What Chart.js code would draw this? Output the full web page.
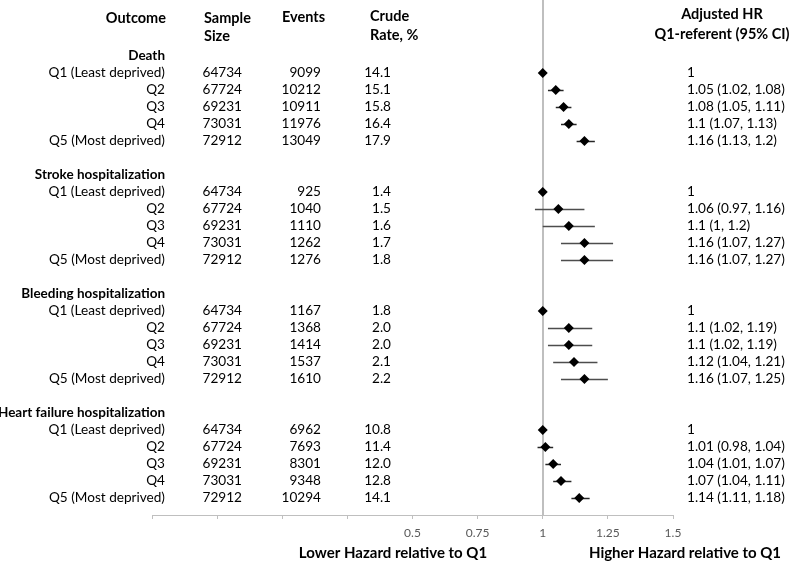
<!DOCTYPE html>
<html lang="en">
<head>
<meta charset="UTF-8">
<title>Forest plot - HR by deprivation quintile</title>
<script src="https://cdn.jsdelivr.net/npm/chart.js"></script>
<style>
  body { margin: 0; background: #fff; }
  #wrap { position: relative; width: 800px; height: 561px; }
</style>
</head>
<body>
<div id="wrap"><canvas id="forest"></canvas></div>
<script>
// table data
const outcomes = ["Death", "Stroke hospitalization", "Bleeding hospitalization", "Heart failure hospitalization"];
const quintiles = ["Q1 (Least deprived)", "Q2", "Q3", "Q4", "Q5 (Most deprived)"];
const sampleSize = [64734, 67724, 69231, 73031, 72912];

const events = [
  [9099, 10212, 10911, 11976, 13049],
  [925, 1040, 1110, 1262, 1276],
  [1167, 1368, 1414, 1537, 1610],
  [6962, 7693, 8301, 9348, 10294]
];
const crudeRate = [
  [14.1, 15.1, 15.8, 16.4, 17.9],
  [1.4, 1.5, 1.6, 1.7, 1.8],
  [1.8, 2.0, 2.0, 2.1, 2.2],
  [10.8, 11.4, 12.0, 12.8, 14.1]
];
const hr = [
  [1, 1.05, 1.08, 1.1, 1.16],
  [1, 1.06, 1.1, 1.16, 1.16],
  [1, 1.1, 1.1, 1.12, 1.16],
  [1, 1.01, 1.04, 1.07, 1.14]
];
const hrLow = [
  [null, 1.02, 1.05, 1.07, 1.13],
  [null, 0.97, 1, 1.07, 1.07],
  [null, 1.02, 1.02, 1.04, 1.07],
  [null, 0.98, 1.01, 1.04, 1.11]
];
const hrHigh = [
  [null, 1.08, 1.11, 1.13, 1.2],
  [null, 1.16, 1.2, 1.27, 1.27],
  [null, 1.19, 1.19, 1.21, 1.25],
  [null, 1.04, 1.07, 1.11, 1.18]
];
const xTicks = [0.5, 0.75, 1, 1.25, 1.5];

// each outcome takes a header row + 5 quintile rows + 1 blank row
const rowOf = (g, q) => g * 7 + 1 + q;

const points = [];
outcomes.forEach((o, g) => {
  quintiles.forEach((q, i) => points.push({ x: hr[g][i], y: rowOf(g, i) }));
});

const FONT = "Lato, 'Open Sans', sans-serif";

const tablePlugin = {
  id: "table",
  beforeDatasetsDraw(chart) {
    const { ctx, chartArea, scales: { x, y } } = chart;
    ctx.save();
    // reference line at HR = 1
    const x1 = Math.round(x.getPixelForValue(1));
    ctx.strokeStyle = "#bfbfbf";
    ctx.lineWidth = 2;
    ctx.beginPath();
    ctx.moveTo(x1, 0);
    ctx.lineTo(x1, chartArea.bottom);
    ctx.stroke();

    // confidence intervals
    outcomes.forEach((o, g) => {
      quintiles.forEach((q, i) => {
        if (hrLow[g][i] == null) return;
        const py = Math.round(y.getPixelForValue(rowOf(g, i))) + 0.5;
        ctx.strokeStyle = g === 0 || g === 3 ? "#262626" : "#4d4d4d";
        ctx.lineWidth = 1.5;
        ctx.beginPath();
        ctx.moveTo(x.getPixelForValue(hrLow[g][i]), py);
        ctx.lineTo(x.getPixelForValue(hrHigh[g][i]), py);
        ctx.stroke();
      });
    });
    ctx.restore();
  },
  afterDraw(chart) {
    const { ctx, scales: { y } } = chart;
    ctx.save();
    ctx.fillStyle = "#000";
    ctx.textBaseline = "middle";

    const txt = (s, px, py, align, font) => {
      ctx.font = font;
      ctx.textAlign = align;
      ctx.fillText(s, px, py);
    };
    const bold = "bold 14.5px " + FONT;
    const reg = "13.6px " + FONT;

    // column headers
    txt("Outcome", 166, 18, "right", bold);
    txt("Sample", 204, 18, "left", bold);
    txt("Size", 204, 36, "left", bold);
    txt("Events", 282, 17, "left", bold);
    txt("Crude", 370, 16, "left", bold);
    txt("Rate, %", 370, 35, "left", bold);
    txt("Adjusted HR", 722, 14, "center", bold);
    txt("Q1-referent (95% CI)", 722, 34, "center", bold);

    outcomes.forEach((o, g) => {
      txt(o, 165, y.getPixelForValue(g * 7), "right", "bold 13.5px " + FONT);
      quintiles.forEach((q, i) => {
        const py = y.getPixelForValue(rowOf(g, i));
        txt(q, 165, py, "right", reg);
        txt(String(sampleSize[i]), 242, py, "right", reg);
        txt(String(events[g][i]), 321, py, "right", reg);
        txt(crudeRate[g][i].toFixed(1), 391, py, "right", reg);
        const s = hrLow[g][i] == null ? String(hr[g][i])
          : hr[g][i] + " (" + hrLow[g][i] + ", " + hrHigh[g][i] + ")";
        txt(s, 687, py, "left", reg);
      });
    });

    txt("Lower Hazard relative to Q1", 393, 553, "center", "bold 15px " + FONT);
    txt("Higher Hazard relative to Q1", 685, 553, "center", "bold 15px " + FONT);
    ctx.restore();
  }
};

new Chart(document.getElementById("forest"), {
  type: "scatter",
  data: {
    datasets: [{
      data: points,
      pointStyle: "rectRot",
      pointRadius: 5,
      pointHoverRadius: 5,
      backgroundColor: "#000",
      borderColor: "#000",
      borderWidth: 0
    }]
  },
  options: {
    responsive: true,
    maintainAspectRatio: false,
    animation: false,
    layout: { padding: { left: 152, right: 127, top: 0, bottom: 0 } },
    plugins: { legend: { display: false }, tooltip: { enabled: false } },
    scales: {
      x: {
        type: "linear",
        min: -0.5,
        max: 1.5,
        afterFit: s => { s.height = 46; },
        afterBuildTicks: s => {
          s.ticks = [];
          for (let v = -0.5; v <= 1.5001; v += 0.25) s.ticks.push({ value: Math.round(v * 100) / 100 });
        },
        ticks: {
          autoSkip: false,
          maxRotation: 0,
          padding: 7,
          color: "#595959",
          font: { family: FONT, size: 12 },
          callback: v => xTicks.includes(v) ? String(v) : ""
        },
        grid: { drawOnChartArea: false, drawTicks: true, tickLength: 4, color: "#bfbfbf" },
        border: { display: true, color: "#bfbfbf", width: 1 }
      },
      y: {
        type: "linear",
        min: -3,
        max: 27,
        reverse: true,
        display: false
      }
    }
  },
  plugins: [tablePlugin]
});
</script>
</body>
</html>
